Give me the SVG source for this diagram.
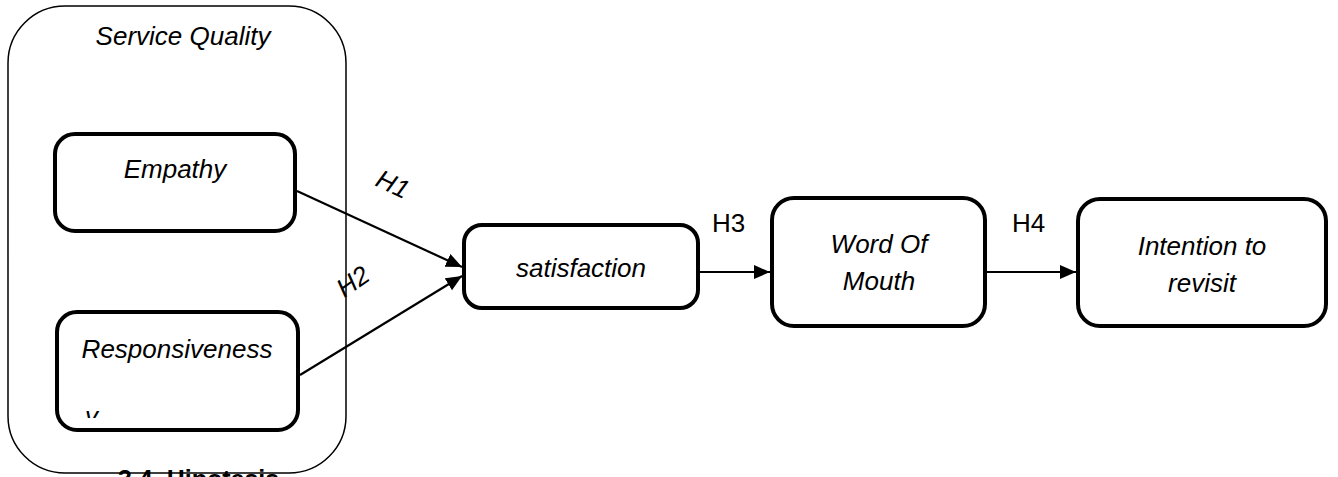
<svg xmlns="http://www.w3.org/2000/svg" width="1338" height="477" viewBox="0 0 1338 477">
<style>
.box{fill:#fff;stroke:#000;stroke-width:4}
.outer{fill:#fff;stroke:#000;stroke-width:1.5}
.lbl{font-family:"Liberation Sans",Arial,sans-serif;font-size:26px;font-style:italic;fill:#000;text-anchor:middle}
.h{font-family:"Liberation Sans",Arial,sans-serif;font-size:26px;fill:#000}
.conn{stroke:#000;stroke-width:2.2;fill:none;marker-end:url(#arr)}
</style>
<defs>
<marker id="arr" markerUnits="userSpaceOnUse" markerWidth="17" markerHeight="15" refX="16" refY="7" orient="auto">
<path d="M0,0 L16,7 L0,14 Z" fill="#000"/>
</marker>
<clipPath id="respClip"><rect x="57" y="312" width="241" height="106"/></clipPath>
</defs>
<g id="service-quality">
<rect class="outer" x="8" y="6" width="338" height="467" rx="57" ry="57"/>
<text class="lbl" x="183" y="45">Service Quality</text>
</g>
<g id="empathy">
<rect class="box" x="55" y="134" width="240" height="97" rx="20" ry="20"/>
<text class="lbl" x="175" y="178">Empathy</text>
</g>
<g id="responsiveness">
<rect class="box" x="57" y="312" width="241" height="118" rx="20" ry="20"/>
<text class="lbl" x="177" y="358">Responsiveness</text>
<text class="lbl" x="85" y="425" style="text-anchor:start" clip-path="url(#respClip)">y</text>
</g>
<g id="satisfaction">
<rect class="box" x="464" y="225" width="234" height="83" rx="18" ry="18"/>
<text class="lbl" x="581" y="277">satisfaction</text>
</g>
<g id="word-of-mouth">
<rect class="box" x="772" y="198" width="213" height="128" rx="22" ry="22"/>
<text class="lbl" x="879" y="253">Word Of</text>
<text class="lbl" x="879" y="290">Mouth</text>
</g>
<g id="intention">
<rect class="box" x="1078" y="199" width="248" height="127" rx="22" ry="22"/>
<text class="lbl" x="1202" y="255">Intention to</text>
<text class="lbl" x="1202" y="292">revisit</text>
</g>
<g id="connectors">
<line class="conn" x1="297" y1="191" x2="462" y2="267"/>
<line class="conn" x1="300" y1="375" x2="462" y2="276"/>
<line class="conn" x1="698" y1="272" x2="770" y2="272"/>
<line class="conn" x1="985" y1="272" x2="1076" y2="272"/>
<text class="h" x="392" y="186" style="font-style:italic;text-anchor:middle" dominant-baseline="middle" transform="rotate(25 392 186)">H1</text>
<text class="h" x="354" y="283" style="font-style:italic;text-anchor:middle" dominant-baseline="middle" transform="rotate(-35 354 283)">H2</text>
<text class="h" x="712" y="232">H3</text>
<text class="h" x="1012" y="232">H4</text>
</g>
<g id="caption">
<text x="118" y="488" style="font-family:'Liberation Sans',Arial,sans-serif;font-size:25px;font-weight:bold" fill="#000">3.4. Hipotesis</text>
</g>
</svg>
